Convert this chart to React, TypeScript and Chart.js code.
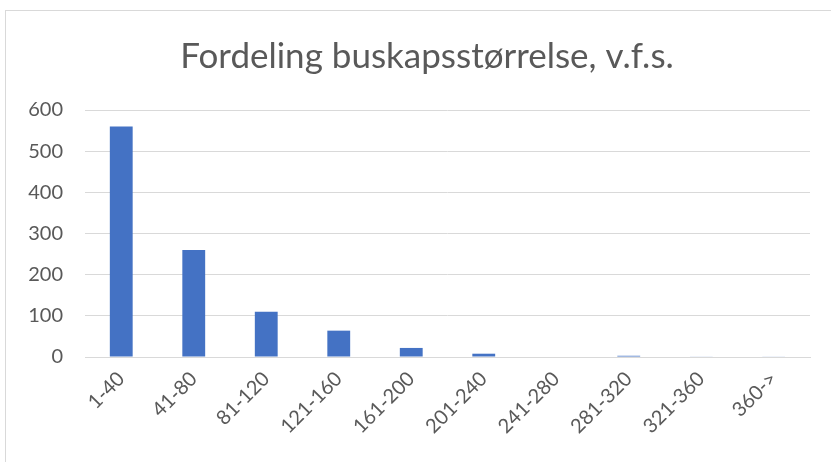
import React, { useEffect, useRef } from "react";
import { Chart, registerables } from "chart.js";

Chart.register(...registerables);

const categories = ["1-40", "41-80", "81-120", "121-160", "161-200", "201-240", "241-280", "281-320", "321-360", "360->"];
const counts = [560, 260, 110, 64, 22, 8, 0, 3, 1, 1];
const yTicks = [0, 100, 200, 300, 400, 500, 600];
const titleText = "Fordeling buskapsstørrelse, v.f.s.";

export default function App() {
  const ref = useRef<HTMLCanvasElement | null>(null);
  useEffect(() => {
    if (!ref.current) return;
    const font = "Lato, 'Liberation Sans', sans-serif";
    const titlePlugin = {
      id: "customTitle",
      afterDraw(chart: any) {
        const ctx = chart.ctx;
        ctx.save();
        ctx.fillStyle = "#595959";
        ctx.font = `35px ${font}`;
        ctx.textAlign = "center";
        ctx.textBaseline = "middle";
        ctx.fillText(titleText, 427, 57);
        ctx.restore();
      },
    };
    const chart = new Chart(ref.current, {
      type: "bar",
      data: {
        labels: categories,
        datasets: [
          {
            data: counts,
            backgroundColor: "#4472C4",
            categoryPercentage: 1,
            barPercentage: 0.315,
          },
        ],
      },
      options: {
        animation: false,
        responsive: false,
        maintainAspectRatio: false,
        layout: { padding: { left: 0, right: 21, top: 110, bottom: 0 } },
        plugins: {
          legend: { display: false },
          tooltip: { enabled: false },
          title: { display: false },
        },
        scales: {
          x: {
            grid: { display: false, drawTicks: false },
            border: { display: true, color: "#d9d9d9", width: 1 },
            ticks: {
              color: "#595959",
              font: { family: font, size: 20 },
              minRotation: 45,
              maxRotation: 45,
              padding: 10,
              autoSkip: false,
            },
            afterFit: (s: any) => {
              s.height = 105;
            },
          },
          y: {
            min: 0,
            max: 600,
            afterBuildTicks: (s: any) => {
              s.ticks = yTicks.map((v) => ({ value: v }));
            },
            grid: { color: "#d9d9d9", lineWidth: 1, drawTicks: false },
            border: { display: false },
            ticks: {
              color: "#595959",
              font: { family: font, size: 20 },
              padding: 22,
            },
            afterFit: (s: any) => {
              s.width = 85;
            },
          },
        },
      },
      plugins: [titlePlugin],
    });
    return () => chart.destroy();
  }, []);
  return (
    <div style={{ position: "fixed", left: 0, top: 0, width: 831, height: 462, overflow: "hidden", background: "#fff" }}>
      <div style={{ position: "absolute", left: 5, top: 10, width: 900, height: 600, border: "1px solid #d9d9d9" }} />
      <canvas ref={ref} width={831} height={462} style={{ position: "absolute", left: 0, top: 0, width: 831, height: 462 }} />
    </div>
  );
}
